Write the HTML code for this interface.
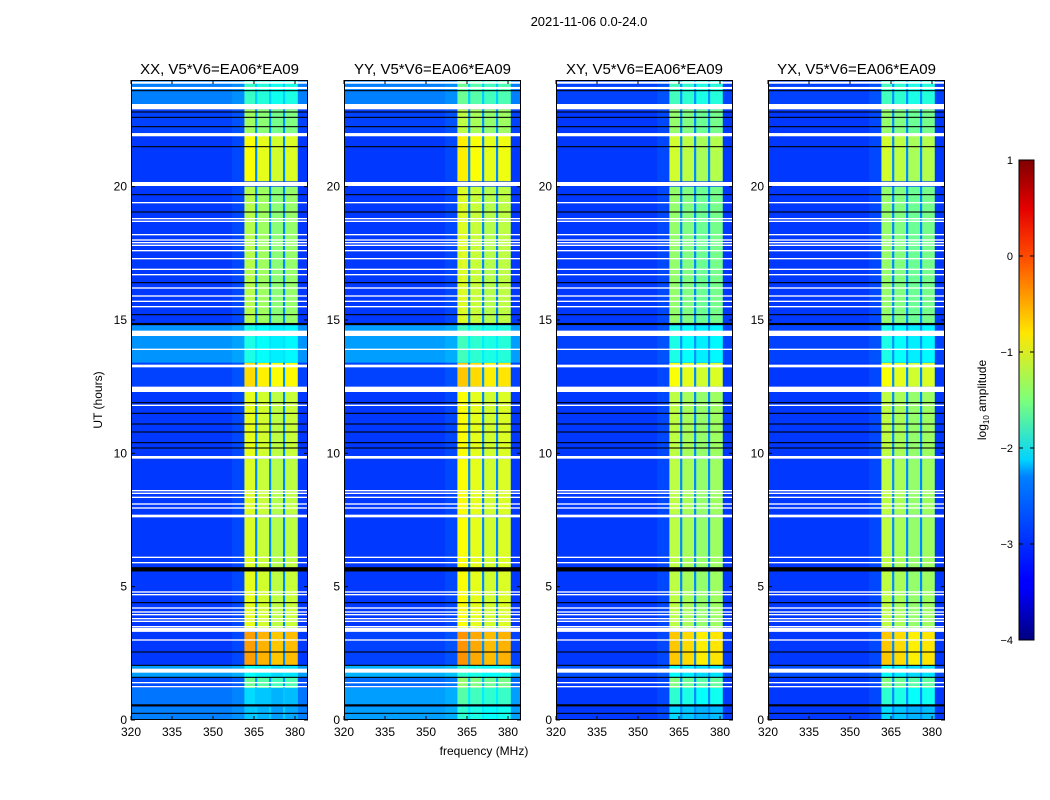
<!DOCTYPE html>
<html><head><meta charset="utf-8"><style>
html,body{margin:0;padding:0;background:#fff;}
svg{display:block;font-family:"Liberation Sans",sans-serif;}
</style></head><body>
<svg id="fig" width="1050" height="800" viewBox="0 0 1050 800" xmlns="http://www.w3.org/2000/svg">
<rect width="1050" height="800" fill="#fff"/>
<text x="589" y="26" font-size="13" text-anchor="middle">2021-11-06 0.0-24.0</text>
<text x="484" y="755" font-size="12" text-anchor="middle">frequency (MHz)</text>
<text transform="translate(102,400) rotate(-90)" font-size="12" text-anchor="middle">UT (hours)</text>
<defs><linearGradient id="jetg" x1="0" y1="1" x2="0" y2="0">
<stop offset="0" stop-color="#00007f"/><stop offset="0.11" stop-color="#0000ff"/><stop offset="0.125" stop-color="#0000ff"/>
<stop offset="0.34" stop-color="#0080ff"/><stop offset="0.375" stop-color="#00d4ff"/><stop offset="0.5" stop-color="#7dff7a"/>
<stop offset="0.64" stop-color="#ffe600"/><stop offset="0.8" stop-color="#ff4a00"/><stop offset="0.9" stop-color="#e40000"/><stop offset="1" stop-color="#7f0000"/>
</linearGradient></defs>
<g id="panels"></g>
<g>
<rect x="1019" y="160" width="15" height="480" fill="url(#jetg)" stroke="#000" stroke-width="1"/>
<g id="cbticks"></g>
<text transform="translate(986,400) rotate(-90)" font-size="12" text-anchor="middle">log<tspan font-size="8" dy="3">10</tspan><tspan dy="-3"> amplitude</tspan></text>
</g>
</svg>
<script>
const panelTitles = ["XX, V5*V6=EA06*EA09","YY, V5*V6=EA06*EA09","XY, V5*V6=EA06*EA09","YX, V5*V6=EA06*EA09"];
const panelLefts = [131,344,556,768];
const xTicks = [320,335,350,365,380];
const yTicks = [0,5,10,15,20];
const cbTicks = [1,0,-1,-2,-3,-4];
const segStart = [0,0.55,1.2,1.6,2.05,3.45,5.7,7.7,9.9,12.5,13.4,14.85,20.2,22.0,23.1];
const segEnd   = [0.5,1.2,1.6,2.05,3.3,5.6,7.6,9.8,12.3,13.4,14.8,20.0,21.9,22.9,24];
const bgLevels = [
 [-2.75,-2.8,-3.0,-2.6,-3.1,-3.1,-3.1,-3.1,-3.1,-3.05,-2.65,-3.1,-3.1,-3.05,-2.75],
 [-2.6,-2.6,-2.85,-2.5,-3.05,-3.1,-3.1,-3.1,-3.1,-3.05,-2.6,-3.1,-3.1,-3.05,-2.75],
 [-3.1,-3.1,-3.1,-3.0,-3.1,-3.1,-3.1,-3.1,-3.1,-3.1,-3.05,-3.1,-3.1,-3.1,-3.05],
 [-3.1,-3.1,-3.1,-3.0,-3.1,-3.1,-3.1,-3.1,-3.1,-3.1,-3.05,-3.1,-3.1,-3.1,-3.05]];
const bandLevels = [
 [-2.5,-2.4,-1.7,-2.2,-0.5,-1.1,-1.15,-1.15,-1.1,-0.8,-2.1,-1.35,-1.0,-1.45,-1.95],
 [-2.0,-1.8,-1.5,-2.0,-0.45,-1.0,-1.0,-1.0,-1.0,-0.7,-1.9,-1.15,-0.9,-1.3,-1.7],
 [-2.4,-2.0,-1.6,-2.2,-0.7,-1.3,-1.3,-1.3,-1.3,-1.0,-2.1,-1.5,-1.2,-1.5,-1.9],
 [-2.4,-2.0,-1.6,-2.2,-0.7,-1.3,-1.3,-1.3,-1.3,-1.0,-2.1,-1.5,-1.2,-1.5,-1.9]];
const subBandLo = [361.5,366.2,371.3,376.4];
const subBandHi = [365.4,370.5,375.6,381.0];
const subBandOffset = [0.1,0,-0.1,-0.05];
const whiteLines = [23.9,23.7,23.0,21.95,20.1,19.4,18.8,18.7,18.2,18.0,17.9,17.8,17.6,17.3,16.9,16.7,16.2,15.9,15.7,15.5,14.5,13.9,13.3,13.25,12.4,11.8,9.85,8.6,8.5,8.35,8.1,7.95,7.65,6.1,5.9,4.8,4.7,4.2,4.05,3.95,3.8,3.7,3.5,3.38,3.0,1.85,1.4,1.25];
const whiteWidths = [0.08,0.08,0.2,0.12,0.15,0.05,0.05,0.05,0.05,0.05,0.05,0.05,0.05,0.05,0.05,0.05,0.05,0.05,0.05,0.05,0.2,0.05,0.05,0.05,0.2,0.05,0.1,0.05,0.05,0.05,0.05,0.05,0.1,0.05,0.05,0.05,0.05,0.05,0.05,0.05,0.05,0.05,0.05,0.15,0.05,0.15,0.05,0.05];
const blackLines = [23.6,22.8,22.6,22.25,21.5,19.7,19.05,16.4,15.2,14.85,11.9,11.5,11.1,10.8,10.4,10.2,5.65,4.4,2.55,2.05,1.6,0.55,0.25];
const blackWidths = [0.04,0.04,0.04,0.04,0.04,0.04,0.04,0.04,0.04,0.08,0.04,0.04,0.04,0.04,0.04,0.04,0.16,0.04,0.04,0.04,0.04,0.08,0.04];

const NS="http://www.w3.org/2000/svg";
const AX_TOP=80, AX_BOT=720, AX_W=177;
const yScale = h => AX_BOT - (h/24)*(AX_BOT-AX_TOP);
const xScale = (f,left) => left + (f-320)*(41/15);
function jet(v){
  const x=Math.max(0,Math.min(1,(v+4)/5));
  const c=t=>Math.round(255*Math.max(0,Math.min(1,1.5-Math.abs(4*x-t))));
  return `rgb(${c(3)},${c(2)},${c(1)})`;
}
function mk(tag,attrs,parent){const e=document.createElementNS(NS,tag);for(const k in attrs)e.setAttribute(k,attrs[k]);parent.appendChild(e);return e;}
const panelsG=document.getElementById('panels');
panelTitles.forEach((title,p)=>{
  const L=panelLefts[p];
  const g=mk('g',{},panelsG);
  
  
  const clip=mk('clipPath',{id:'clip'+p},g);
  mk('rect',{x:L,y:AX_TOP,width:AX_W,height:AX_BOT-AX_TOP},clip);
  const d=mk('g',{'clip-path':`url(#clip${p})`},g);
  mk('rect',{x:L,y:AX_TOP,width:AX_W,height:AX_BOT-AX_TOP,fill:jet(-3.1)},d);
  segStart.forEach((s,i)=>{
    const y0=yScale(segEnd[i]), y1=yScale(s);
    const bg=mk('rect',{x:L,y:y0,width:AX_W,height:y1-y0,fill:jet(bgLevels[p][i])},d);
    
    
    const fx0=xScale(357,L), fx1=xScale(361.5,L);
    mk('rect',{x:fx0,y:y0,width:fx1-fx0,height:y1-y0,fill:jet(bgLevels[p][i]+0.15),opacity:0.5},d);
    const gx0=xScale(subBandLo[0],L), gx1=xScale(subBandHi[3],L);
    mk('rect',{x:gx0,y:y0,width:gx1-gx0,height:y1-y0,fill:jet(bgLevels[p][i]+0.4)},d);
    subBandLo.forEach((lo,k)=>{
      const bx0=xScale(lo,L), bx1=xScale(subBandHi[k],L);
      const r=mk('rect',{x:bx0,y:y0,width:bx1-bx0,height:y1-y0,fill:jet(bandLevels[p][i]+subBandOffset[k])},d);
      
      
    });
  });
  blackLines.forEach((h,i)=>{
    const y0=yScale(h+blackWidths[i]/2);
    const r=mk('rect',{x:L,y:y0,width:AX_W,height:Math.max(1,yScale(h-blackWidths[i]/2)-y0),fill:'#000'},d);
    
    
  });
  whiteLines.forEach((h,i)=>{
    const y0=yScale(h+whiteWidths[i]/2);
    const r=mk('rect',{x:L,y:y0,width:AX_W,height:Math.max(1,yScale(h-whiteWidths[i]/2)-y0),fill:'#fff'},d);
    
    
  });
  const fr=mk('rect',{x:L+0.5,y:AX_TOP+0.5,width:AX_W-1,height:AX_BOT-AX_TOP-1,fill:'none',stroke:'#000','stroke-width':1},g);
  
  
  const t=mk('text',{x:L+AX_W/2,y:74,'font-size':15,'text-anchor':'middle'},g);
  t.textContent=title;
  
  
  xTicks.forEach(v=>{
    const x=xScale(v,L);
    mk('line',{x1:x,x2:x,y1:AX_BOT,y2:AX_BOT-4,stroke:'#000'},g);
    mk('line',{x1:x,x2:x,y1:AX_TOP,y2:AX_TOP+4,stroke:'#000'},g);
    const tl=mk('text',{x:x,y:AX_BOT+16,'font-size':12,'text-anchor':'middle'},g);
    tl.textContent=v;
    
    
  });
  yTicks.forEach(v=>{
    const y=yScale(v);
    mk('line',{x1:L,x2:L+4,y1:y,y2:y,stroke:'#000'},g);
    mk('line',{x1:L+AX_W,x2:L+AX_W-4,y1:y,y2:y,stroke:'#000'},g);
    const tl=mk('text',{x:L-4,y:y+4,'font-size':12,'text-anchor':'end'},g);
    tl.textContent=v;
    
    
  });
});
const cbg=document.getElementById('cbticks');
cbTicks.forEach(v=>{
  const y=640-(v+4)/5*480;
  mk('line',{x1:1019,x2:1023,y1:y,y2:y,stroke:'#000'},cbg);
  mk('line',{x1:1034,x2:1030,y1:y,y2:y,stroke:'#000'},cbg);
  const tl=mk('text',{x:1013,y:y+4,'font-size':11,'text-anchor':'end'},cbg);
  tl.textContent=v<0?'\u2212'+(-v):String(v);
  
  
});
</script>
</body></html>
